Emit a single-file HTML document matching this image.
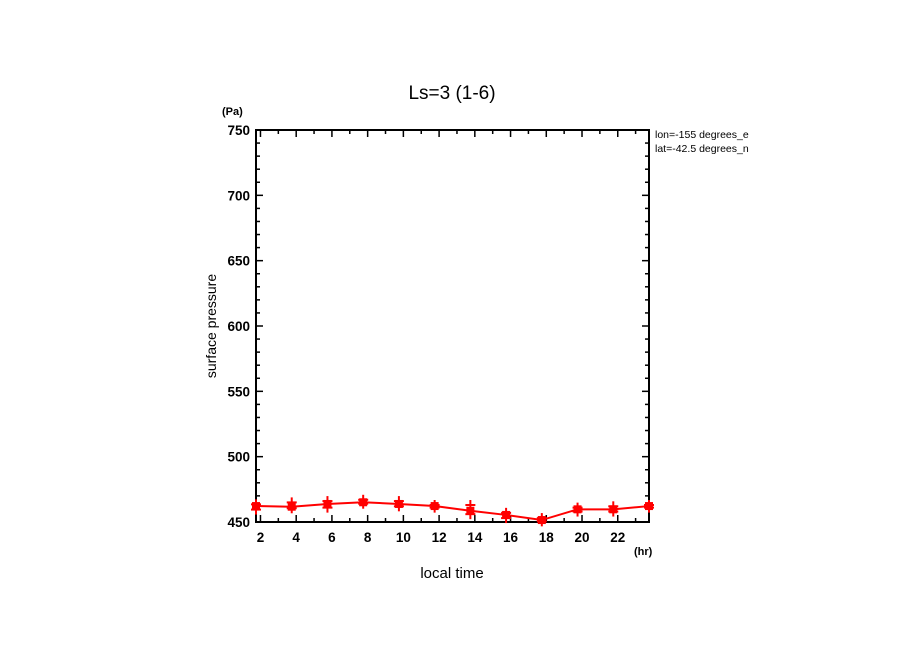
<!DOCTYPE html>
<html><head><meta charset="utf-8"><style>
body{margin:0;background:#fff;}
svg text{font-family:"Liberation Sans",sans-serif;fill:#000;}
</style></head><body>
<svg width="904" height="654" xmlns="http://www.w3.org/2000/svg">
<text x="452" y="99" font-size="19" text-anchor="middle">Ls=3 (1-6)</text>
<text x="222" y="115" font-size="11" font-weight="bold">(Pa)</text>
<text x="634" y="555" font-size="11" font-weight="bold">(hr)</text>
<text x="452" y="578" font-size="15" text-anchor="middle">local time</text>
<text x="0" y="0" font-size="14" text-anchor="middle" transform="translate(216,326) rotate(-90)">surface pressure</text>
<text x="655" y="138" font-size="10.5">lon=-155 degrees_e</text>
<text x="655" y="152" font-size="10.5">lat=-42.5 degrees_n</text>
<rect x="779" y="128" width="125" height="30" fill="#fff"/>
<g id="axes"></g>
<g id="marks"></g>
</svg>
<script>
const hours=[1.75,3.75,5.75,7.75,9.75,11.75,13.75,15.75,17.75,19.75,21.75,23.75];
const meanVals=[462.2,461.7,463.8,465.1,463.8,462.2,458.6,455.4,451.5,459.7,459.7,462.2];
const plusVals=[[459.5,463.5],[465,460.5],[461,466],[467,464],[466,462],[463,461],[463,456],[457,453],[453,450.5],[461,458],[462,458],[463,461]];
const xTicks=[2,4,6,8,10,12,14,16,18,20,22];
const yTicks=[450,500,550,600,650,700,750];
const X0=256,X1=649,Y0=522,Y1=130,hMin=1.75,hMax=23.75,pMin=450,pMax=750;
const sx=h=>X0+(h-hMin)/(hMax-hMin)*(X1-X0);
const sy=p=>Y0-(p-pMin)/(pMax-pMin)*(Y0-Y1);
const NS="http://www.w3.org/2000/svg";
function mk(t,a,parent){const e=document.createElementNS(NS,t);for(const k in a)e.setAttribute(k,a[k]);parent.appendChild(e);return e;}
const ax=document.getElementById('axes'),mg=document.getElementById('marks');
const frame=mk('rect',{x:X0,y:Y1,width:X1-X0,height:Y0-Y1,fill:'none',stroke:'#000','stroke-width':2},ax);


for(let p=pMin;p<=pMax;p+=10){const m=p%50===0,L=m?7:4;
mk('line',{x1:X0,x2:X0+L,y1:sy(p),y2:sy(p),stroke:'#000','stroke-width':1.5},ax);
mk('line',{x1:X1,x2:X1-L,y1:sy(p),y2:sy(p),stroke:'#000','stroke-width':1.5},ax);}
yTicks.forEach(p=>{const t=mk('text',{x:X0-6,y:sy(p)+5,'font-size':13.5,'font-weight':'bold','text-anchor':'end'},ax);t.textContent=p;

});
for(let h=2;h<=23;h+=1){const m=h%2===0,L=m?7:4;
mk('line',{x1:sx(h),x2:sx(h),y1:Y0,y2:Y0-L,stroke:'#000','stroke-width':1.5},ax);
mk('line',{x1:sx(h),x2:sx(h),y1:Y1,y2:Y1+L,stroke:'#000','stroke-width':1.5},ax);}
xTicks.forEach(h=>{const t=mk('text',{x:sx(h),y:Y0+20,'font-size':13.5,'font-weight':'bold','text-anchor':'middle'},ax);t.textContent=h;

});
const line=mk('polyline',{points:hours.map((h,i)=>sx(h)+','+sy(meanVals[i])).join(' '),fill:'none',stroke:'#f00','stroke-width':2},mg);


hours.forEach((h,i)=>{
plusVals[i].forEach(v=>{const g=mk('g',{stroke:'#f00','stroke-width':2},mg);


mk('line',{x1:sx(h)-5,x2:sx(h)+5,y1:sy(v),y2:sy(v)},g);mk('line',{x1:sx(h),x2:sx(h),y1:sy(v)-5,y2:sy(v)+5},g);});
const r=mk('rect',{x:sx(h)-4,y:sy(meanVals[i])-4,width:8,height:8,fill:'#f00'},mg);

});
</script>
</body></html>
